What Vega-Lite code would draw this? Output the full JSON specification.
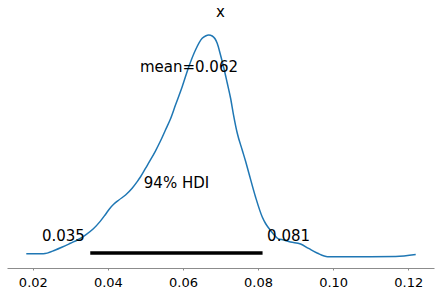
{
  "$schema": "https://vega.github.io/schema/vega-lite/v6.json",
  "autosize": "none",
  "width": 427,
  "height": 242,
  "padding": {"left": 7, "top": 26, "right": 6, "bottom": 28},
  "title": {"text": "x", "fontSize": 15, "fontWeight": "normal", "font": "DejaVu Sans", "color": "black", "offset": 6},
  "config": {"view": {"stroke": null}, "font": "DejaVu Sans"},
  "datasets": {
    "kde": [
      {"x": 0.01826, "density": 0.375}, {"x": 0.0228, "density": 0.375}, {"x": 0.026, "density": 0.84},
      {"x": 0.02786, "density": 1.21}, {"x": 0.03, "density": 1.675}, {"x": 0.03213, "density": 2.15},
      {"x": 0.034, "density": 2.71}, {"x": 0.03613, "density": 3.5}, {"x": 0.038, "density": 4.45},
      {"x": 0.0393, "density": 5.25}, {"x": 0.0405, "density": 6.02}, {"x": 0.0416, "density": 6.58},
      {"x": 0.04293, "density": 7.09},
      {"x": 0.0447, "density": 7.71}, {"x": 0.04646, "density": 8.55},
      {"x": 0.0478, "density": 9.38}, {"x": 0.04866, "density": 9.96}, {"x": 0.05, "density": 11.03},
      {"x": 0.05133, "density": 12.09}, {"x": 0.05266, "density": 13.21}, {"x": 0.054, "density": 14.46},
      {"x": 0.05533, "density": 15.84}, {"x": 0.05666, "density": 17.21}, {"x": 0.058, "density": 18.96},
      {"x": 0.05979, "density": 21.25}, {"x": 0.06155, "density": 23.75}, {"x": 0.06333, "density": 25.84},
      {"x": 0.06512, "density": 27.3}, {"x": 0.066, "density": 27.59}, {"x": 0.06688, "density": 27.71},
      {"x": 0.06779, "density": 27.59}, {"x": 0.06912, "density": 26.68}, {"x": 0.07, "density": 25.21},
      {"x": 0.07088, "density": 23.59}, {"x": 0.07179, "density": 21.71}, {"x": 0.07267, "density": 19.84},
      {"x": 0.07347, "density": 17.71}, {"x": 0.07445, "density": 15.46}, {"x": 0.07578, "density": 13.34},
      {"x": 0.07666, "density": 11.96}, {"x": 0.07754, "density": 10.46}, {"x": 0.07933, "density": 7.46},
      {"x": 0.08112, "density": 4.96}, {"x": 0.082, "density": 4.15}, {"x": 0.08288, "density": 3.55},
      {"x": 0.08386, "density": 2.96}, {"x": 0.0852, "density": 2.3}, {"x": 0.0868, "density": 2.09},
      {"x": 0.08866, "density": 1.84}, {"x": 0.09133, "density": 1.59}, {"x": 0.09346, "density": 1.03},
      {"x": 0.09586, "density": 0.425}, {"x": 0.09853, "density": 0}, {"x": 0.10333, "density": 0},
      {"x": 0.11, "density": 0}, {"x": 0.11666, "density": 0.025}, {"x": 0.122, "density": 0.275}
    ],
    "hdi": [{"low": 0.0353, "high": 0.0812, "density": 0.46}],
    "labels": [
      {"x": 0.0616, "density": 23.71, "text": "mean=0.062"},
      {"x": 0.05827, "density": 9.21, "text": "94% HDI"},
      {"x": 0.02813, "density": 2.59, "text": "0.035"},
      {"x": 0.08813, "density": 2.59, "text": "0.081"}
    ]
  },
  "layer": [
    {
      "data": {"name": "kde"},
      "mark": {"type": "line", "color": "#1f77b4", "strokeWidth": 1.5, "interpolate": "monotone"},
      "encoding": {
        "x": {"field": "x", "type": "quantitative", "scale": {"domain": [0.01312, 0.12687], "nice": false, "zero": false},
          "axis": {"values": [0.02, 0.04, 0.06, 0.08, 0.1, 0.12], "format": ".2f", "title": null, "grid": false,
            "labelFontSize": 13, "labelColor": "black", "labelFont": "DejaVu Sans", "domainColor": "#8c8c8c",
            "tickColor": "#8c8c8c", "tickSize": 2, "labelPadding": 6, "domainWidth": 1}},
        "y": {"field": "density", "type": "quantitative", "scale": {"domain": [-1.4125, 28.84], "nice": false, "zero": false}, "axis": null}
      }
    },
    {
      "data": {"name": "hdi"},
      "mark": {"type": "rule", "color": "black", "strokeWidth": 3.5},
      "encoding": {
        "x": {"field": "low", "type": "quantitative"},
        "x2": {"field": "high"},
        "y": {"field": "density", "type": "quantitative"}
      }
    },
    {
      "data": {"name": "labels"},
      "mark": {"type": "text", "fontSize": 15, "font": "DejaVu Sans", "color": "black", "baseline": "middle", "align": "center"},
      "encoding": {
        "x": {"field": "x", "type": "quantitative"},
        "y": {"field": "density", "type": "quantitative"},
        "text": {"field": "text"}
      }
    }
  ]
}
